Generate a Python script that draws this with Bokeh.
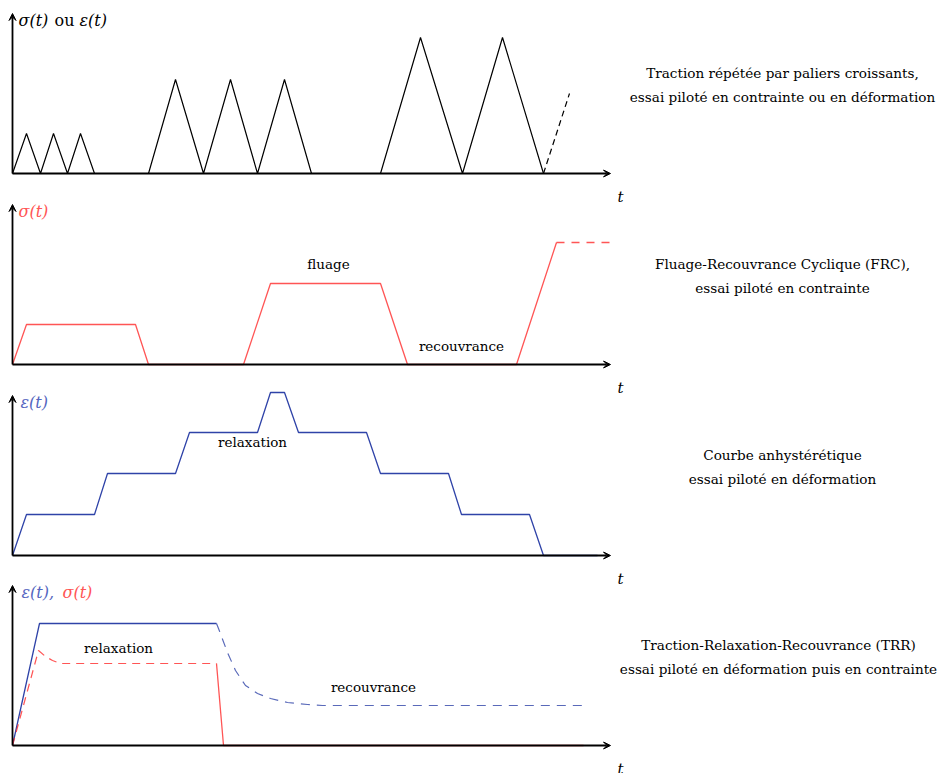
from bokeh.plotting import figure
from bokeh.models import Range1d, Arrow, VeeHead
from bokeh.core.properties import value
from bokeh.embed import file_html
from bokeh.resources import INLINE

# ---------------- data (t = time units, v = level units above each baseline) ----------------
# Panel 1 : traction répétée
t1 = [0, 14, 28, 41, 55, 68, 82, 136, 163, 191, 218, 245, 272, 299, 368, 408, 450, 490, 531]
v1 = [0, 40, 0, 40, 0, 40, 0, 0, 94, 0, 94, 0, 94, 0, 0, 136, 0, 136, 0]
t1_dash = [531, 557]
v1_dash = [0, 80]

# Panel 2 : fluage-recouvrance
t2 = [0, 14, 123, 136, 231, 258, 368, 395, 504, 544]
v2 = [0, 40, 40, 0, 0, 81, 81, 0, 0, 122]
t2_dash = [544, 600]
v2_dash = [122, 122]

# Panel 3 : courbe anhystérétique
t3 = [0, 14, 82, 95, 163, 177, 245, 258, 272, 286, 354, 368, 436, 449, 517, 531, 585]
v3 = [0, 41, 41, 82, 82, 123, 123, 163, 163, 123, 123, 82, 82, 41, 41, 0, 0]

# Panel 4 : traction-relaxation-recouvrance
t4_eps = [0, 27, 204]
v4_eps = [0, 122, 122]
t4_eps_dash = [204, 206, 215, 223, 233, 245, 258, 275, 295, 310, 571]
v4_eps_dash = [122, 117, 93, 75, 60, 52, 47, 43, 41, 40, 40]
t4_sig_dash = [0, 26, 33, 40, 48, 204]
v4_sig_dash = [0, 95, 89, 85, 82, 82]
t4_sig = [204, 211, 571]
v4_sig = [82, 0, 0]

titles = [
    ["Traction répétée par paliers croissants,", "essai piloté en contrainte ou en déformation"],
    ["Fluage-Recouvrance Cyclique (FRC),", "essai piloté en contrainte"],
    ["Courbe anhystérétique", "essai piloté en déformation"],
    ["Traction-Relaxation-Recouvrance (TRR)", "essai piloté en déformation puis en contrainte"],
]

# ---------------- layout constants ----------------
BASES = [592, 401, 210, 20]
AX_END = 598
AX_TOP = 160
RED = "#ff2a2a"
BLUE = "#2f43a8"
RED_T = "#ff5555"
BLUE_T = "#5566c0"
SERIF = "DejaVu Serif"

p = figure(width=944, height=773, x_range=Range1d(-12, 932), y_range=Range1d(-8, 765),
           output_backend="svg", toolbar_location=None, min_border=0,
           x_axis_type=None, y_axis_type=None)
p.grid.visible = False
p.outline_line_color = None
p.background_fill_color = "white"


def sh(vals, b):
    return [v + b for v in vals]


def txt(x, y, s, color="black", style="normal", size="13.5px", align="center"):
    p.text(x=[x], y=[y], text=[s], text_font=value(SERIF), text_font_style=style,
           text_font_size=value(size), text_align=align, text_baseline="middle",
           text_color=color)


# axes
for b in BASES:
    p.add_layout(Arrow(x_start=0, y_start=b, x_end=AX_END, y_end=b, line_width=1.8, line_color="black",
                       end=VeeHead(size=7, line_color="black", fill_color="black", line_width=1)))
    p.add_layout(Arrow(x_start=0, y_start=b, x_end=0, y_end=b + AX_TOP, line_width=1.8, line_color="black",
                       end=VeeHead(size=7, line_color="black", fill_color="black", line_width=1)))
    txt(608, b - 23, "t", style="italic", size="15px")

b1, b2, b3, b4 = BASES

# panel 1
p.line(t1, sh(v1, b1), line_color="black", line_width=1.2)
p.line(t1_dash, sh(v1_dash, b1), line_color="black", line_width=1.2, line_dash="6 4")

# panel 2
p.line(t2, sh(v2, b2), line_color=RED, line_width=1.3, line_alpha=0.8)
p.line(t2_dash, sh(v2_dash, b2), line_color=RED, line_width=1.3, line_alpha=0.8, line_dash="8 7")

# panel 3
p.line(t3, sh(v3, b3), line_color=BLUE, line_width=1.3)

# panel 4
p.line(t4_eps, sh(v4_eps, b4), line_color=BLUE, line_width=1.3)
p.line(t4_eps_dash, sh(v4_eps_dash, b4), line_color=BLUE, line_width=1.2, line_alpha=0.8, line_dash="9 7")
p.line(t4_sig_dash, sh(v4_sig_dash, b4), line_color=RED, line_width=1.2, line_alpha=0.8, line_dash="8 6")
p.line(t4_sig, sh(v4_sig, b4), line_color=RED, line_width=1.3, line_alpha=0.8)

# in-plot labels
txt(316, b2 + 101, "fluage")
txt(449, b2 + 19, "recouvrance")
txt(240, b3 + 114, "relaxation")
txt(106, b4 + 98, "relaxation")
txt(361, b4 + 59, "recouvrance")

# y-axis labels
txt(6, b1 + 153, "σ(t)", style="italic", size="16px", align="left")
txt(42, b1 + 153, "ou", size="16px", align="left")
txt(67, b1 + 153, "ε(t)", style="italic", size="16px", align="left")
txt(6, b2 + 153, "σ(t)", color=RED_T, style="italic", size="16px", align="left")
txt(8, b3 + 153, "ε(t)", color=BLUE_T, style="italic", size="16px", align="left")
txt(9, b4 + 153, "ε(t),", color=BLUE_T, style="italic", size="16px", align="left")
txt(50, b4 + 153, "σ(t)", color=RED_T, style="italic", size="16px", align="left")

# right-hand descriptions
centers = [770, 770, 770, 766]
for (l1, l2), b, cx in zip(titles, BASES, centers):
    txt(cx, b + 101, l1, size="13.6px")
    txt(cx, b + 77, l2, size="13.6px")

open("out.html", "w").write(file_html(p, INLINE))
